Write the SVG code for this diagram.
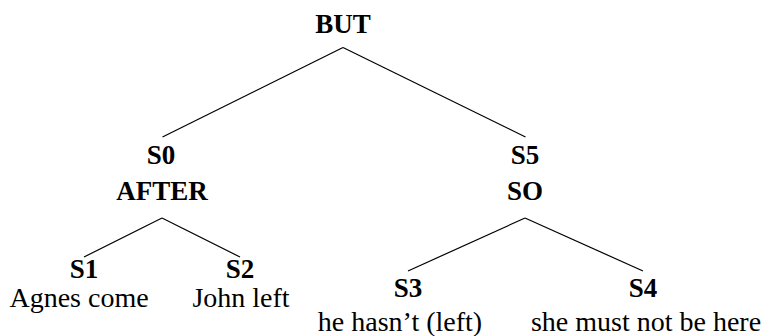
<svg xmlns="http://www.w3.org/2000/svg" width="764" height="336" viewBox="0 0 764 336">
<style>
text{font-size:28px;fill:#000;text-anchor:middle}
.b{font-weight:bold;font-size:27px}
line{stroke:#000;stroke-width:1.2}
</style>
<rect width="764" height="336" fill="#fff"/>
<g id="connectors">
<line x1="343" y1="47.5" x2="162.5" y2="137"/>
<line x1="343" y1="47.5" x2="525.5" y2="137"/>
<line x1="162" y1="218" x2="84" y2="257"/>
<line x1="162" y1="218" x2="240" y2="257"/>
<line x1="525" y1="218" x2="408" y2="271"/>
<line x1="525" y1="218" x2="643" y2="271"/>
</g>
<g font-family="Liberation Serif, DejaVu Serif, serif">
<g id="BUT"><text class="b" x="343" y="33">BUT</text></g>
<g id="S0"><text class="b" x="161" y="164">S0</text><text class="b" x="162" y="200">AFTER</text></g>
<g id="S5"><text class="b" x="525" y="164">S5</text><text class="b" x="525" y="200">SO</text></g>
<g id="S1"><text class="b" x="84" y="278">S1</text><text x="79" y="307">Agnes come</text></g>
<g id="S2"><text class="b" x="240" y="278">S2</text><text x="241" y="307">John left</text></g>
<g id="S3"><text class="b" x="408" y="297">S3</text><text x="400" y="331">he hasn’t (left)</text></g>
<g id="S4"><text class="b" x="643" y="297">S4</text><text x="646" y="331">she must not be here</text></g>
</g>
</svg>
